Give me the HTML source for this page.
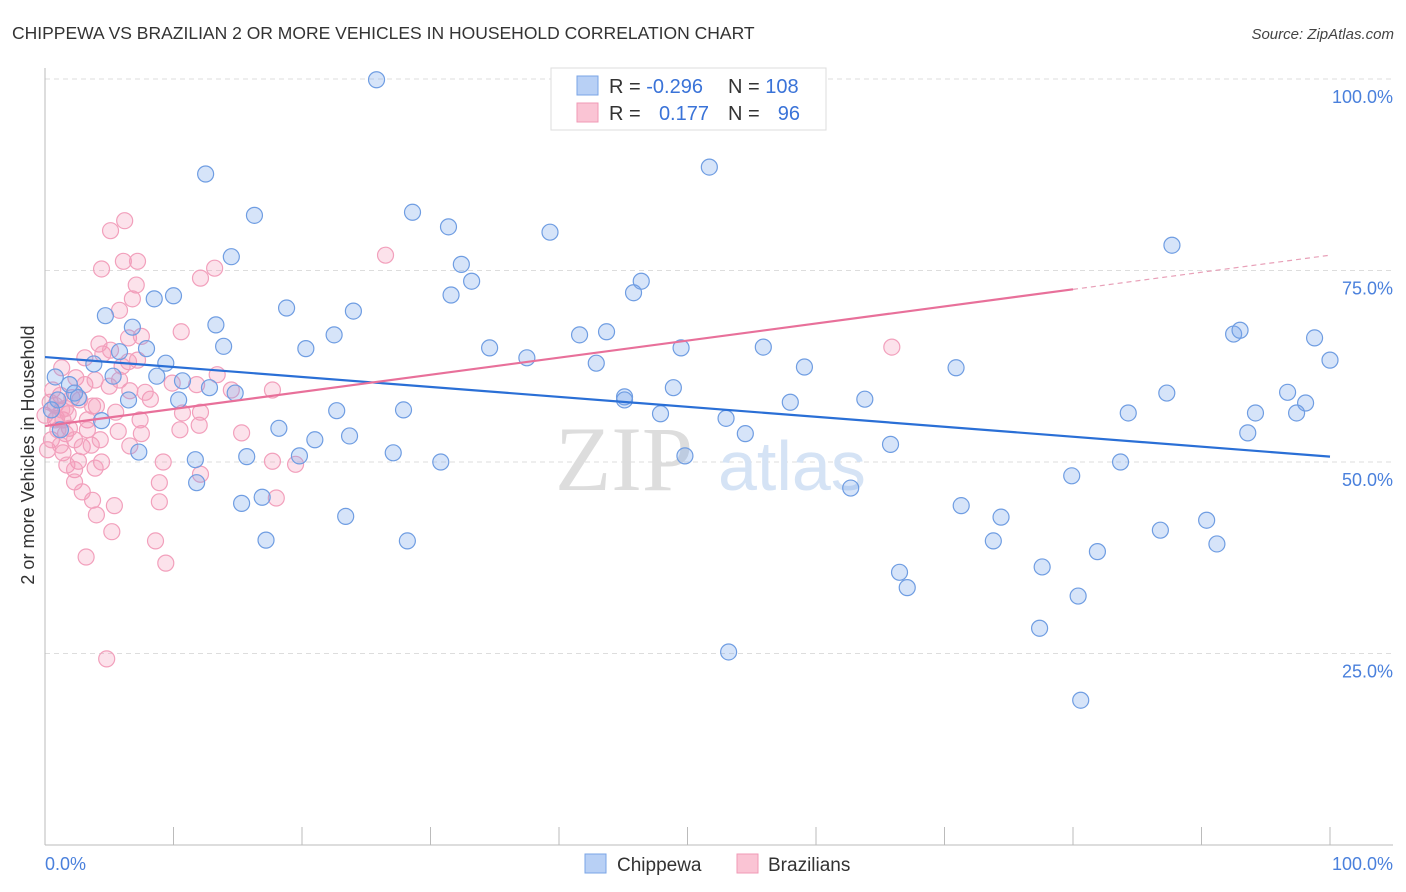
<!DOCTYPE html>
<html><head><meta charset="utf-8">
<style>
body{margin:0;background:#fff;font-family:"Liberation Sans",sans-serif;}
svg{display:block}
</style></head>
<body>
<svg id="chart" width="1406" height="892" xmlns="http://www.w3.org/2000/svg">
<text x="12" y="39" font-size="17.5" fill="#333">CHIPPEWA VS BRAZILIAN 2 OR MORE VEHICLES IN HOUSEHOLD CORRELATION CHART</text>
<text x="1394" y="39" font-size="15" fill="#444" font-style="italic" text-anchor="end">Source: ZipAtlas.com</text>
<g id="grid"></g>
<text x="555" y="490" font-size="92" fill="#ddd" font-family="Liberation Serif,serif">ZIP</text>
<text x="718" y="490" font-size="70" fill="#d5e3f5">atlas</text>
<g id="marks"></g>
<g id="lines"></g>
<text transform="translate(34,455) rotate(-90)" font-size="18" fill="#333" text-anchor="middle">2 or more Vehicles in Household</text>
<g>
<rect x="551" y="68" width="275" height="62" fill="#fff" stroke="#ddd"/>
<rect x="577" y="76" width="21" height="19" fill="#b8d0f5" stroke="#7aa4e6"/>
<rect x="577" y="103" width="21" height="19" fill="#fac4d4" stroke="#f09ab6"/>
<text x="609" y="93" font-size="20" fill="#333">R = <tspan fill="#3a73d8">-0.296</tspan></text>
<text x="728" y="93" font-size="20" fill="#333">N = <tspan fill="#3a73d8">108</tspan></text>
<text x="609" y="120" font-size="20" fill="#333">R = </text>
<text x="709" y="120" font-size="20" fill="#3a73d8" text-anchor="end">0.177</text>
<text x="728" y="120" font-size="20" fill="#333">N = </text>
<text x="800" y="120" font-size="20" fill="#3a73d8" text-anchor="end">96</text>
</g>
<g>
<rect x="585" y="854" width="21" height="19" fill="#b8d0f5" stroke="#7aa4e6"/>
<text x="617" y="871" font-size="19" fill="#333">Chippewa</text>
<rect x="737" y="854" width="21" height="19" fill="#fac4d4" stroke="#f09ab6"/>
<text x="768" y="871" font-size="19" fill="#333">Brazilians</text>
</g>
</svg>
<script>
const blueX=[25.8,51.7,12.5,16.3,28.6,31.4,39.3,87.7,14.5,32.4,33.2,31.6,45.8,46.4,8.5,10.0,18.8,24.0,4.7,13.3,6.8,22.5,41.6,43.7,92.5,93.0,98.8,13.9,20.3,34.6,49.5,55.9,7.9,5.8,37.5,42.9,3.8,9.4,100,59.1,70.9,0.8,8.7,5.3,10.7,12.8,1.9,14.8,2.3,45.1,48.9,87.3,96.7,45.1,2.6,6.5,10.4,27.9,22.7,58.0,63.8,98.1,84.3,94.2,97.4,47.9,53.0,4.4,18.2,54.5,93.6,23.7,21.0,65.8,7.3,27.1,15.7,19.8,49.8,11.7,30.8,83.7,11.8,79.9,62.7,15.3,16.9,71.3,23.4,74.4,86.8,90.4,17.2,28.2,73.8,91.2,81.9,77.6,66.5,67.1,80.4,77.4,53.2,80.6,1.0,0.5,1.2];
const blueY=[99.9,88.5,87.6,82.2,82.6,80.7,80.0,78.3,76.8,75.8,73.6,71.8,72.1,73.6,71.3,71.7,70.1,69.7,69.1,67.9,67.6,66.6,66.6,67.0,66.7,67.2,66.2,65.1,64.8,64.9,64.9,65.0,64.8,64.4,63.6,62.9,62.8,62.9,63.3,62.4,62.3,61.1,61.2,61.2,60.6,59.7,60.1,59.0,59.0,58.5,59.7,59.0,59.1,58.1,58.4,58.1,58.1,56.8,56.7,57.8,58.2,57.7,56.4,56.4,56.4,56.3,55.7,55.4,54.4,53.7,53.8,53.4,52.9,52.3,51.3,51.2,50.7,50.8,50.8,50.3,50.0,50.0,47.3,48.2,46.6,44.6,45.4,44.3,42.9,42.8,41.1,42.4,39.8,39.7,39.7,39.3,38.3,36.3,35.6,33.6,32.5,28.3,25.2,18.9,58.1,56.8,54.2];
const pinkX=[6.2,5.1,6.1,7.2,4.4,13.2,12.1,7.1,26.5,6.8,5.8,10.6,6.5,7.5,4.2,4.5,3.1,6.5,6.0,7.2,65.9,1.3,2.4,5.0,13.4,9.9,11.8,14.5,17.7,0.6,1.2,8.2,4.0,3.7,5.5,10.7,12.1,1.8,0.9,1.4,3.3,12.0,10.5,0.0,0.4,0.8,1.9,1.6,2.3,5.7,7.5,2.9,3.6,6.6,15.3,1.4,2.6,1.7,4.4,9.2,17.7,19.5,12.1,2.3,3.9,8.9,2.3,2.9,3.7,8.9,4.0,5.4,18.0,5.2,8.6,3.2,9.4,4.8,0.2,0.5,1.0,1.2,3.1,2.1,4.3,1.6,6.6,7.8,5.1,2.7,3.9,0.8,1.3,5.8,3.3,7.4];
const pinkY=[81.5,80.2,76.2,76.2,75.2,75.3,74.0,73.1,77.0,71.3,69.8,67.0,66.2,66.4,65.4,64.1,63.6,63.1,62.5,63.3,65.0,62.3,61.0,59.9,61.4,60.3,60.1,59.4,59.4,59.4,58.7,58.2,57.3,57.3,56.5,56.4,56.5,56.3,55.7,55.5,55.5,54.8,54.2,56.1,57.8,57.4,54.4,53.7,52.9,54.0,53.7,52.0,52.2,52.1,53.8,51.2,50.1,49.6,50.0,50.0,50.1,49.7,48.4,49.0,49.2,47.3,47.4,46.1,45.0,44.8,43.1,44.3,45.3,40.9,39.7,37.6,36.8,24.3,51.6,52.9,54.2,52.2,60.1,58.4,52.9,57.0,59.3,59.1,64.6,58.1,60.7,55.5,56.8,60.7,54.2,55.5];
const blueTrend=[63.7,50.7];
const pinkTrend=[54.7,77.0];
const yTicks=[25,50,75,100];
const xTicks=[0,10,20,30,40,50,60,70,80,90,100];

const NS="http://www.w3.org/2000/svg";
const X0=45,X1=1330,Y0=845,Y100=79;
const sx=v=>X0+(X1-X0)*v/100;
const sy=v=>Y0-(Y0-Y100)*v/100;
function mk(t,a,p){const e=document.createElementNS(NS,t);for(const k in a)e.setAttribute(k,a[k]);p.appendChild(e);return e;}
const grid=document.getElementById('grid');
yTicks.forEach(t=>{
  const l=mk('line',{x1:X0,x2:1393,y1:sy(t),y2:sy(t),stroke:'#ddd','stroke-dasharray':'5,4'},grid);
  
  
  const tx=mk('text',{x:1393,y:sy(t)+24,'font-size':18,fill:'#4a80dc','text-anchor':'end'},grid);
  tx.textContent=t.toFixed(1)+'%';
  
  
});
const ax=mk('line',{x1:X0,x2:1393,y1:Y0,y2:Y0,stroke:'#bbb'},grid);


const ay=mk('line',{x1:X0,x2:X0,y1:68,y2:Y0,stroke:'#bbb'},grid);


xTicks.forEach(t=>{
  const l=mk('line',{x1:sx(t),x2:sx(t),y1:Y0,y2:Y0-18,stroke:'#bbb'},grid);
  
  
});
[[0,'start',45,'0.0%'],[100,'end',1393,'100.0%']].forEach(d=>{
  const tx=mk('text',{x:d[2],y:870,'font-size':18,fill:'#4a80dc','text-anchor':d[1]},grid);
  tx.textContent=d[3];
  
  
});
const marks=document.getElementById('marks');
pinkX.forEach((x,i)=>{
  const c=mk('circle',{cx:sx(x),cy:sy(pinkY[i]),r:8,fill:'rgba(244,150,182,0.28)',stroke:'#f2a0bc','stroke-width':1.2},marks);
  
  
});
blueX.forEach((x,i)=>{
  const c=mk('circle',{cx:sx(x),cy:sy(blueY[i]),r:8,fill:'rgba(120,165,235,0.3)',stroke:'#6f9de2','stroke-width':1.2},marks);
  
  
});
const lines=document.getElementById('lines');
const bl=mk('line',{x1:sx(0),y1:sy(blueTrend[0]),x2:sx(100),y2:sy(blueTrend[1]),stroke:'#2a6fd6','stroke-width':2.2},lines);


const pAt=v=>pinkTrend[0]+(pinkTrend[1]-pinkTrend[0])*v/100;
const pl=mk('line',{x1:sx(0),y1:sy(pAt(0)),x2:sx(80),y2:sy(pAt(80)),stroke:'#e8709a','stroke-width':2.2},lines);


const pd=mk('line',{x1:sx(80),y1:sy(pAt(80)),x2:sx(100),y2:sy(pAt(100)),stroke:'#e8a0b8','stroke-width':1.2,'stroke-dasharray':'5,4'},lines);


</script>
</body></html>
